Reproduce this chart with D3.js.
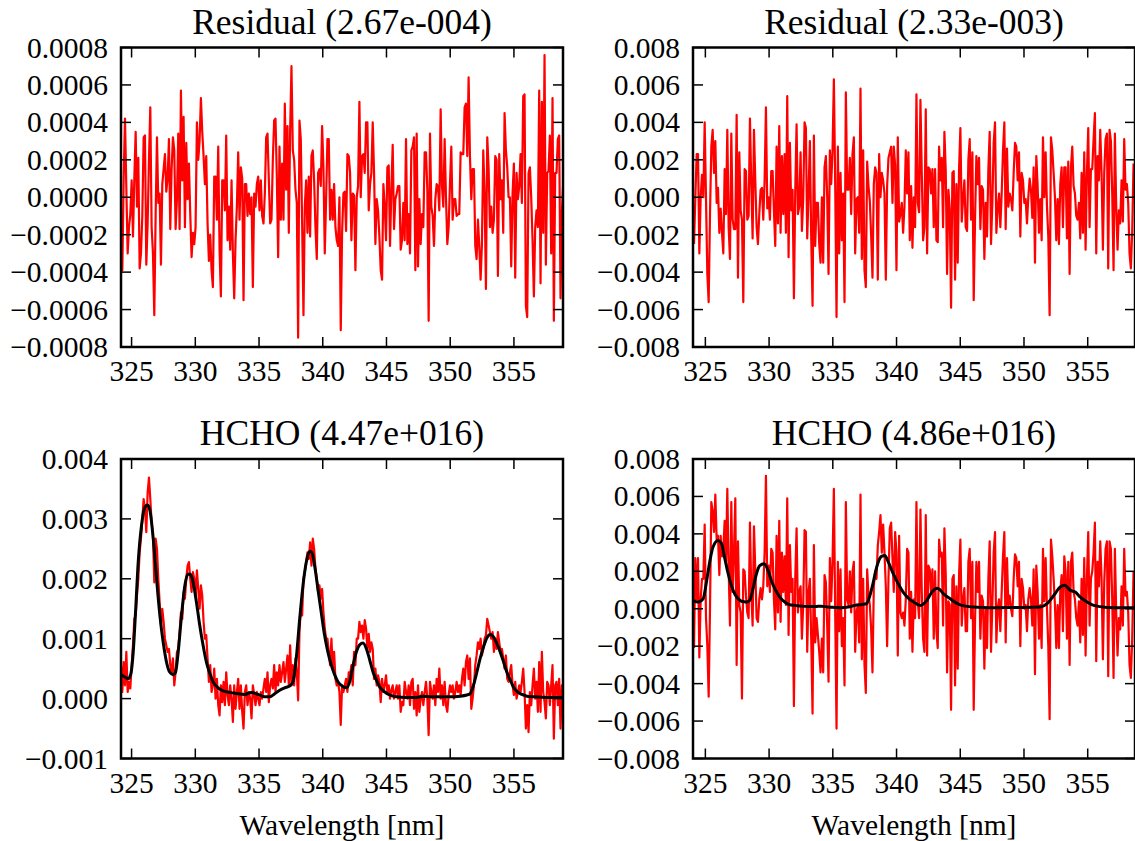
<!DOCTYPE html>
<html>
<head>
<meta charset="utf-8">
<script src="https://cdn.jsdelivr.net/npm/d3@7"></script>
<style>
body { margin: 0; background: #fff; }
text { font-family: "Liberation Serif", "Times New Roman", serif; fill: #000; }
</style>
</head>
<body>
<svg id="chart" width="1135" height="841"></svg>
<script>
// wavelength sampling of the spectra (nm)
var wlStartLeft = 324.17, wlStartRight = 324.11, wlStep = 0.1045;

// top left: residual, units of 1e-5
var residualA = [
  -25,-39,10,42,5,-30,-16,-9,9,-21, 10,35,-5,21,-38,-30,-10,32,33,-36,
  -14,20,48,-16,-30,-63,-10,32,-3,2, -36,7,15,23,3,10,31,-17,15,32,
  25,-17,-1,34,-17,57,9,43,-16,29, -1,18,-9,-32,-19,-25,-16,40,20,30,
  53,35,22,7,22,-14,-34,-20,-39,-48, 11,11,-12,27,-28,-53,9,9,-7,33,
  -23,-5,-28,9,-30,-54,-23,-5,24,-12, 16,10,-55,7,7,-10,2,-9,0,-48,
  2,-5,7,11,-7,9,-10,-14,2,32, 34,9,-14,-12,20,41,42,11,-32,27,
  -12,18,-12,50,4,38,-19,36,70,25, 20,4,-3,-75,41,31,-14,-63,-5,9,
  -19,11,-21,22,25,9,-16,-33,13,15, 6,38,16,-30,-1,31,31,-12,4,-12,
  7,-16,-23,-26,0,
  -71,-19,2,3,-18,23,22,13,-23,2, 1,-39,0,6,51,0,22,23,13,40,
  40,-7,7,13,40,13,-25,-1,-7,-21, -39,-44,7,-5,-23,16,17,-26,4,28,
  -17,-1,2,6,6,-28,-23,-3,-23,31, -25,-9,-30,25,27,32,-39,34,-37,-1,
  -25,-9,-16,24,24,4,-66,34,-5,-10, -26,-1,7,6,-7,47,6,-5,31,0,
  -25,-16,7,27,-12,-1,-1,-10,-9,-9, 24,23,23,48,50,22,64,22,-1,15,
  15,-26,-33,-12,-26,-44,-25,25,2,-49, 32,16,-16,-5,-19,-12,22,20,-42,23,
  -1,9,-19,45,25,16,0,0,-37,2, 18,-43,13,-1,6,23,-3,54,55,-58,
  -64,13,16,0,-23,-53,-16,-7,-16,57, -46,51,-19,76,-36,13,14,33,-30,53,
  -66,13,13,31,33,-54,-9,7
];

// top right: residual, units of 1e-4
var residualB = [
  -25,0,23,23,-30,0,12,0,40,-1, -41,-56,-9,27,36,13,30,-3,5,-19,
  -6,-19,-30,15,-9,36,-16,-33,34,-12, -17,-17,44,-43,24,-7,-12,-56,15,14,
  -12,-10,42,7,-22,36,9,-16,-25,-9, 4,5,-12,9,48,-6,0,-12,14,14,
  -7,-26,27,-14,38,-19,22,-9,23,-19, 54,-32,29,-7,4,-54,3,39,-9,-5,
  24,-18,-1,40,37,-22,2,30,-22,-58, 33,-26,-3,-3,-25,-35,0,-35,16,22,
  0,-41,25,7,25,63,7,-64,27,-30, 13,-23,2,-56,56,4,4,21,-9,23,
  32,-30,-1,0,-19,58,-33,25,-39,-48, 19,6,-2,-21,-43,7,16,13,-44,23,
  0,13,9,2,-44,6,21,24,27,-3, 27,17,-39,32,-13,-9,-3,-19,-5,25,2,
  24,-23,6,-27,0,-16,55,-3,-8,52, 13,-23,-16,47,-30,16,15,2,15,-16,
  15,-23,-24,27,9,21,-16,35,14,-41, 4,-6,-59,13,14,-44,7,-35,15,37,
  -13,-1,9,-16,-18,20,31,-12,24,-55, -12,22,7,21,-17,6,4,-33,-3,-21,
  15,35,-25,-3,29,40,-19,-6,2,-16, 2,25,40,-17,26,-5,2,-1,-7,13,
  29,27,9,24,-21,13,9,-3,-1,-14, 0,10,4,-11,16,-35,22,6,-19,-1,
  -23,32,0,24,-5,-21,-63,32,25,13, 0,-23,-1,-25,7,16,-16,16,16,-22,
  19,-41,16,27,6,2,-10,-12,-3,-22, 13,-19,24,-28,13,37,-16,15,15,31,
  45,-30,22,9,36,13,-28,13,31,34, -38,36,30,2,-39,34,-5,-28,-7,-14,
  9,-13,31,4,7,-3,-30,-38,-18,18
];

// bottom left: measured HCHO optical depth, units of 1e-5
var measuredA = [
  56,11,61,22,78,11,28,17,56,89, 133,139,172,200,244,267,300,333,317,278,
  344,369,333,294,272,194,267,250,200,161, 122,150,128,100,89,78,83,56,44,67,
  22,44,78,83,111,144,133,178,167,200, 222,228,200,178,211,200,172,214,183,150,
  189,172,128,100,106,67,28,56,11,22, 50,0,33,-11,-28,22,-6,28,-11,44,
  6,-11,22,0,-39,22,-17,11,33,-17, 22,-22,-50,11,22,-11,11,0,-33,22,
  6,-11,11,0,-11,11,0,17,33,11, 44,-6,22,33,17,56,11,44,22,56,
  28,44,61,28,50,72,22,89,22,56, 22,67,44,-3,111,150,139,200,211,228,
  244,233,261,222,267,250,217,200,178,189, 167,183,144,117,100,100,78,56,100,50,
  78,33,22,28,11,
  -44,22,11,22,33,11,44,39,56,22, 78,56,100,100,128,111,122,100,131,117,
  83,108,78,94,83,33,50,22,39,28, -6,33,11,22,39,11,22,0,14,22,
  0,11,22,0,22,-22,-6,-11,28,11, 0,22,-11,28,33,-17,11,-28,22,-22,
  0,11,-11,11,28,0,-61,28,11,0, 22,-11,33,11,50,0,22,-11,28,-11,
  -22,6,22,11,22,0,11,28,11,22, 6,33,50,22,61,72,33,67,-17,0,
  22,56,72,94,83,100,72,83,100,106, 133,122,111,100,111,78,100,83,111,94,
  78,83,67,50,72,33,28,44,56,22, 6,28,0,11,22,11,28,50,11,-50,
  -11,-56,11,-11,22,50,0,28,-22,61, -22,78,11,-6,-33,28,22,-11,22,56,
  -67,22,28,-11,33,-50,22,11
];

// bottom right: measured HCHO optical depth, units of 1e-4
var measuredB = [
  -21,27,5,27,-26,5,16,16,45,-5, -20,-47,0,57,52,41,61,37,39,18,
  39,28,32,47,25,64,21,-9,57,9, 30,59,-30,36,2,-2,-48,21,20,7,
  -2,-5,46,9,-9,44,21,-5,-7,5, 11,5,12,30,71,12,23,9,32,30,
  5,-11,39,-2,47,-7,30,9,28,2, 59,-14,34,9,16,-52,16,43,-2,9,
  12,-16,2,42,41,-23,9,16,-16,-56, 34,-18,-5,-14,-23,-34,-16,-34,18,14,
  -9,-39,27,4,25,64,-2,-64,25,-12, 21,-20,-5,-41,57,5,2,20,-2,20,
  25,-23,-2,2,-18,61,-27,16,-30,-45, 21,7,2,-11,-34,12,20,16,34,41,
  50,30,45,30,12,-20,16,43,46,27, 9,41,30,-25,39,-2,-5,-2,-9,5,32,
  30,-16,9,-23,5,-5,57,4,-5,53, 9,-16,-23,50,-25,23,21,9,21,-16,
  20,-12,-21,37,28,30,-9,43,18,-34, 4,2,-54,16,18,-41,12,-32,18,37,
  -9,5,11,-12,-12,25,32,-5,25,-54, -7,25,9,25,-16,7,4,-32,0,-21,
  16,36,-23,2,30,41,-18,0,5,-12, 9,28,41,-18,27,2,7,0,-4,16,
  29,27,12,25,-20,16,11,0,2,-12, 5,11,5,-9,21,-35,23,9,-16,2,
  -21,32,4,27,0,-20,-59,37,28,16, 2,-21,2,-21,9,18,-12,28,20,-16,
  25,-30,25,30,9,5,-5,-9,4,-18, 16,-14,27,-25,16,41,-9,16,20,30,
  46,-28,25,12,36,16,-27,14,32,36, -36,36,32,5,-37,32,-2,-25,-5,-11,
  12,-9,32,7,9,-2,-30,-37,-16,20
];

// fitted HCHO cross section, [wavelength, value x1e-5]
var fitA = [
  [324.16,40],[324.48,36],[324.74,33],[324.95,42],[325.13,78],[325.31,144],[325.52,228],[325.78,289],
  [326.04,319],[326.25,323],[326.44,314],[326.70,267],[326.96,200],[327.22,139],[327.48,94],[327.74,61],
  [328.00,44],[328.26,40],[328.45,44],[328.66,78],[328.92,139],[329.18,189],[329.44,208],[329.65,207],
  [329.83,194],[330.09,161],[330.35,122],[330.61,89],[330.87,61],[331.14,42],[331.40,28],[331.79,18],
  [332.31,12],[332.83,10],[333.36,8],[333.88,7],[334.40,10],[334.92,7],[335.44,3],[335.84,3],
  [336.23,8],[336.62,14],[337.01,18],[337.40,21],[337.66,28],[337.92,67],[338.19,133],[338.45,189],
  [338.71,228],[338.97,246],[339.15,244],[339.36,222],[339.62,183],[339.88,144],[340.14,106],[340.40,78],
  [340.67,56],[340.93,40],[341.19,28],[341.59,20],[341.85,18],[342.11,28],[342.38,56],[342.64,78],
  [342.90,90],[343.16,93],[343.43,83],[343.69,64],[343.95,44],[344.21,31],[344.48,19],[344.87,11],
  [345.26,6],[345.79,3],[346.57,2],[347.36,2],[347.89,4],[348.41,3],[349.20,3],[349.99,3],
  [350.77,4],[351.30,6],[351.56,8],[351.82,22],[352.09,44],[352.35,67],[352.61,86],[352.87,101],
  [353.14,107],[353.40,103],[353.66,92],[353.92,78],[354.19,61],[354.45,44],[354.71,31],[354.97,19],
  [355.24,12],[355.63,7],[356.02,4],[356.55,3],[357.60,2],[358.86,2]
];

// fitted HCHO cross section, [wavelength, value x1e-4]
var fitB = [
  [324.03,4.5],[324.42,3.6],[324.82,5.3],[325.08,14],[325.34,25],[325.60,33],[325.99,36.5],[326.26,35],
  [326.52,27],[326.78,19],[327.04,12.5],[327.30,8],[327.57,5.3],[327.83,4],[328.22,3.6],[328.48,4.5],
  [328.74,10.7],[329.01,18.7],[329.27,23],[329.61,24],[329.92,20.5],[330.18,15],[330.45,10.7],[330.84,6.2],
  [331.23,3.6],[331.62,2.1],[332.02,1.8],[332.54,1.4],[333.06,1.2],[333.59,1.2],[334.11,1.4],[334.63,0.9],
  [335.16,0.7],[335.68,0.5],[336.20,0.9],[336.73,1.8],[337.25,2.3],[337.64,2.7],[337.91,7.1],[338.17,14],
  [338.43,22],[338.82,28],[339.08,28.5],[339.35,25],[339.74,18.7],[340.13,13.4],[340.52,8.9],[340.92,5.7],
  [341.34,3.6],[341.86,1.8],[342.38,4.5],[342.77,8.9],[343.22,11],[343.69,8],[344.21,5.3],[345.00,2.1],
  [346.05,0.9],[347.36,0.5],[348.66,0.7],[349.97,0.7],[351.28,0.9],[351.81,2.7],[352.33,7.1],[352.85,11.6],
  [353.19,12.5],[353.64,9.8],[354.03,8.9],[354.42,6.2],[354.95,3.6],[355.47,1.8],[356.52,0.7],[357.57,0.5],
  [358.72,0.5]
];

var xTicks = [325, 330, 335, 340, 345, 350, 355];
var yTicksResA = [-0.0008, -0.0006, -0.0004, -0.0002, 0, 0.0002, 0.0004, 0.0006, 0.0008];
var yTicksResB = [-0.008, -0.006, -0.004, -0.002, 0, 0.002, 0.004, 0.006, 0.008];
var yTicksHchoA = [-0.001, 0, 0.001, 0.002, 0.003, 0.004];
var yTicksHchoB = [-0.008, -0.006, -0.004, -0.002, 0, 0.002, 0.004, 0.006, 0.008];

var titles = ['Residual (2.67e-004)', 'Residual (2.33e-003)', 'HCHO (4.47e+016)', 'HCHO (4.86e+016)'];
var xLabel = 'Wavelength [nm]';

var svg = d3.select('#chart');
var W = 442, H = 299.5;

var toPoints = function(vals, start, scale) {
    return vals.map(function(v, i) { return [start + i * wlStep, v * scale]; });
};

var panel = function(id, left, top, xDomain, yDomain, yTicks, fmt, title, red, fit, showXLabel) {
    var x = d3.scaleLinear().domain(xDomain).range([left, left + W]);
    var y = d3.scaleLinear().domain(yDomain).range([top + H, top]);
    var g = svg.append('g');
    g.append('clipPath').attr('id', 'clip' + id).append('rect')
        .attr('x', left).attr('y', top).attr('width', W).attr('height', H);

    var line = d3.line().x(function(d) { return x(d[0]); }).y(function(d) { return y(d[1]); });
    g.append('path').attr('d', line(red)).attr('clip-path', 'url(#clip' + id + ')')
        .attr('fill', 'none').attr('stroke', '#ff0000').attr('stroke-width', 2.2).attr('stroke-linejoin', 'round');
    if (fit) {
        var fitLine = d3.line().curve(d3.curveMonotoneX)
            .x(function(d) { return x(d[0]); }).y(function(d) { return y(d[1]); });
        g.append('path').attr('d', fitLine(fit)).attr('clip-path', 'url(#clip' + id + ')')
            .attr('fill', 'none').attr('stroke', '#000').attr('stroke-width', 3).attr('stroke-linejoin', 'round');
    }

    // ticks inward on all four sides
    var tl = 10;
    xTicks.forEach(function(t) {
        g.append('line').attr('x1', x(t)).attr('x2', x(t)).attr('y1', top + H).attr('y2', top + H - tl)
            .attr('stroke', '#000').attr('stroke-width', 1.5);
        g.append('line').attr('x1', x(t)).attr('x2', x(t)).attr('y1', top).attr('y2', top + tl)
            .attr('stroke', '#000').attr('stroke-width', 1.5);
        g.append('text').attr('x', x(t)).attr('y', top + H + 34).attr('text-anchor', 'middle')
            .style('font-size', '29.5px').text(t);
    });
    var f = d3.format(fmt);
    yTicks.forEach(function(t) {
        g.append('line').attr('x1', left).attr('x2', left + tl).attr('y1', y(t)).attr('y2', y(t))
            .attr('stroke', '#000').attr('stroke-width', 1.5);
        g.append('line').attr('x1', left + W).attr('x2', left + W - tl).attr('y1', y(t)).attr('y2', y(t))
            .attr('stroke', '#000').attr('stroke-width', 1.5);
        g.append('text').attr('x', left - 13).attr('y', y(t) + 10).attr('text-anchor', 'end')
            .style('font-size', '29.5px').text(f(t).replace('-', '\u2212'));
    });

    g.append('rect').attr('x', left).attr('y', top).attr('width', W).attr('height', H)
        .attr('fill', 'none').attr('stroke', '#000').attr('stroke-width', 2.5);

    g.append('text').attr('x', left + W / 2).attr('y', top - 14).attr('text-anchor', 'middle')
        .style('font-size', '35.5px').text(title);
    if (showXLabel) {
        g.append('text').attr('x', left + W / 2).attr('y', top + H + 76).attr('text-anchor', 'middle')
            .style('font-size', '29.5px').text(xLabel);
    }
};

var xDomLeft = [324.17, 358.85], xDomRight = [324.03, 358.71];

panel('a', 121, 47.5, xDomLeft, [-0.0008, 0.0008], yTicksResA, '.4f', titles[0],
    toPoints(residualA, wlStartLeft, 1e-5), null, false);
panel('b', 693, 47.5, xDomRight, [-0.008, 0.008], yTicksResB, '.3f', titles[1],
    toPoints(residualB, wlStartRight, 1e-4), null, false);
panel('c', 121, 459, xDomLeft, [-0.001, 0.004], yTicksHchoA, '.3f', titles[2],
    toPoints(measuredA, wlStartLeft, 1e-5), fitA.map(function(d) { return [d[0], d[1] * 1e-5]; }), true);
panel('d', 693, 459, xDomRight, [-0.008, 0.008], yTicksHchoB, '.3f', titles[3],
    toPoints(measuredB, wlStartRight, 1e-4), fitB.map(function(d) { return [d[0], d[1] * 1e-4]; }), true);
</script>
</body>
</html>
